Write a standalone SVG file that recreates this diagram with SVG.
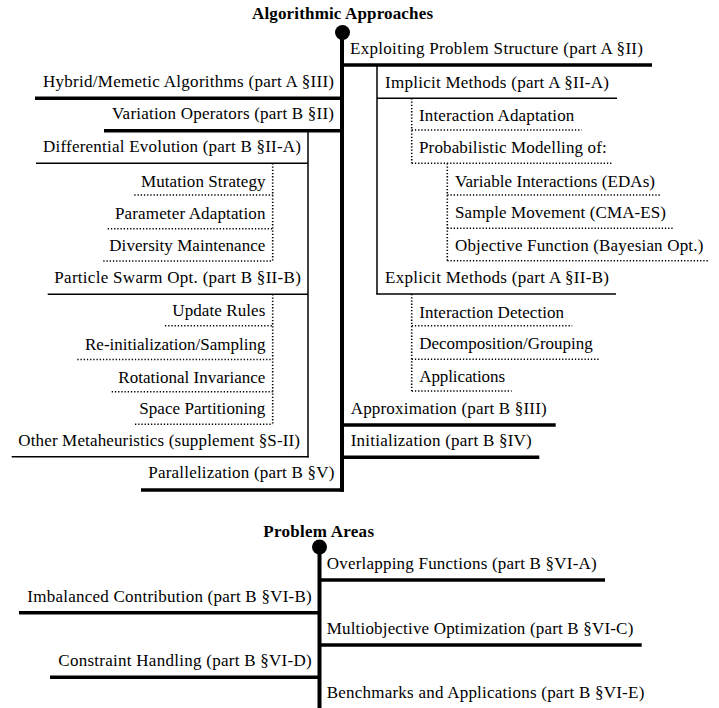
<svg xmlns="http://www.w3.org/2000/svg" width="719" height="708" viewBox="0 0 719 708">
<style>
text{font-family:'Liberation Serif','Times New Roman',serif;font-size:17px;fill:#000;}
.title{font-weight:bold;}
.thick{stroke:#000;stroke-width:3.5;fill:none;}
.spine{stroke:#000;stroke-width:4;fill:none;}
.thin{stroke:#000;stroke-width:1.5;fill:none;}
.dot{stroke:#000;stroke-width:1.6;stroke-dasharray:1.3 1.9;fill:none;}
</style>
<rect width="719" height="708" fill="#fff"/>
<g id="connectors">
  <line class="spine" x1="342" y1="32" x2="342" y2="491.7"/>
  <circle cx="342.5" cy="32.5" r="7.5" fill="#000"/>
  <line class="thick" x1="342" y1="65" x2="652" y2="65"/>
  <line class="thick" x1="35" y1="98.3" x2="342" y2="98.3"/>
  <line class="thick" x1="104" y1="130.7" x2="342" y2="130.7"/>
  <line class="thick" x1="342" y1="425" x2="555.7" y2="425"/>
  <line class="thick" x1="342" y1="457.3" x2="539.3" y2="457.3"/>
  <line class="thick" x1="141" y1="490" x2="344" y2="490"/>
  <line class="thin" x1="377" y1="65" x2="377" y2="294.3"/>
  <line class="thin" x1="377" y1="98.3" x2="617" y2="98.3"/>
  <line class="thin" x1="376.3" y1="294" x2="616" y2="294"/>
  <line class="thin" x1="308" y1="130.7" x2="308" y2="457.4"/>
  <line class="thin" x1="36" y1="163.3" x2="308" y2="163.3"/>
  <line class="thin" x1="47.7" y1="294.3" x2="308" y2="294.3"/>
  <line class="thin" x1="11.7" y1="456.7" x2="308.7" y2="456.7"/>
  <line class="dot" x1="411.7" y1="98.3" x2="411.7" y2="163.3"/>
  <line class="dot" x1="411.7" y1="130" x2="581.7" y2="130"/>
  <line class="dot" x1="411.7" y1="163.3" x2="611.7" y2="163.3"/>
  <line class="dot" x1="447.3" y1="163.3" x2="447.3" y2="260.7"/>
  <line class="dot" x1="447.3" y1="195" x2="660" y2="195"/>
  <line class="dot" x1="447.3" y1="228.3" x2="673.3" y2="228.3"/>
  <line class="dot" x1="447.3" y1="260.7" x2="708.3" y2="260.7"/>
  <line class="dot" x1="411.7" y1="294" x2="411.7" y2="391"/>
  <line class="dot" x1="411.7" y1="325.7" x2="572.3" y2="325.7"/>
  <line class="dot" x1="411.7" y1="359.3" x2="600" y2="359.3"/>
  <line class="dot" x1="411.7" y1="391" x2="511.7" y2="391"/>
  <line class="dot" x1="272.7" y1="163.3" x2="272.7" y2="261"/>
  <line class="dot" x1="134.3" y1="195" x2="272.7" y2="195"/>
  <line class="dot" x1="107.7" y1="228.8" x2="272.7" y2="228.8"/>
  <line class="dot" x1="103.3" y1="261" x2="272.7" y2="261"/>
  <line class="dot" x1="272.7" y1="294.3" x2="272.7" y2="424.3"/>
  <line class="dot" x1="165" y1="325.7" x2="272.7" y2="325.7"/>
  <line class="dot" x1="77.3" y1="359.5" x2="272.7" y2="359.5"/>
  <line class="dot" x1="111.7" y1="391.7" x2="272.7" y2="391.7"/>
  <line class="dot" x1="135" y1="424.3" x2="272.7" y2="424.3"/>
  <line class="spine" x1="319.5" y1="547" x2="319.5" y2="708"/>
  <circle cx="319.5" cy="547" r="7.5" fill="#000"/>
  <line class="thick" x1="319.5" y1="580" x2="605" y2="580"/>
  <line class="thick" x1="19" y1="612.7" x2="319.5" y2="612.7"/>
  <line class="thick" x1="319.5" y1="645" x2="641.7" y2="645"/>
  <line class="thick" x1="50" y1="677.3" x2="319.5" y2="677.3"/>
</g>
<g id="root-algorithmic"><text class="title" x="252" y="19" textLength="181" lengthAdjust="spacing">Algorithmic Approaches</text></g>
<g id="exploiting"><text x="350" y="54" textLength="293" lengthAdjust="spacing">Exploiting Problem Structure (part A §II)</text></g>
<g id="hybrid"><text x="43" y="87" textLength="291" lengthAdjust="spacing">Hybrid/Memetic Algorithms (part A §III)</text></g>
<g id="variation"><text x="112" y="119.3" textLength="222" lengthAdjust="spacing">Variation Operators (part B §II)</text></g>
<g id="implicit"><text x="385" y="88.3" textLength="224" lengthAdjust="spacing">Implicit Methods (part A §II-A)</text></g>
<g id="interaction-adaptation"><text x="419" y="121" textLength="155.3" lengthAdjust="spacing">Interaction Adaptation</text></g>
<g id="de"><text x="43" y="151.7" textLength="258" lengthAdjust="spacing">Differential Evolution (part B §II-A)</text></g>
<g id="probabilistic"><text x="419" y="153.3" textLength="187.7" lengthAdjust="spacing">Probabilistic Modelling of:</text></g>
<g id="mutation"><text x="141" y="186.7" textLength="124.5" lengthAdjust="spacing">Mutation Strategy</text></g>
<g id="variable-interactions"><text x="455" y="186.7" textLength="200" lengthAdjust="spacing">Variable Interactions (EDAs)</text></g>
<g id="parameter"><text x="115" y="218.8" textLength="150.5" lengthAdjust="spacing">Parameter Adaptation</text></g>
<g id="sample-movement"><text x="455" y="218.3" textLength="211" lengthAdjust="spacing">Sample Movement (CMA-ES)</text></g>
<g id="diversity"><text x="109.3" y="251" textLength="156" lengthAdjust="spacing">Diversity Maintenance</text></g>
<g id="objective"><text x="455" y="251" textLength="248.3" lengthAdjust="spacing">Objective Function (Bayesian Opt.)</text></g>
<g id="pso"><text x="54.3" y="283.3" textLength="246.5" lengthAdjust="spacing">Particle Swarm Opt. (part B §II-B)</text></g>
<g id="explicit"><text x="385" y="283.3" textLength="224" lengthAdjust="spacing">Explicit Methods (part A §II-B)</text></g>
<g id="update"><text x="172.3" y="316" textLength="93" lengthAdjust="spacing">Update Rules</text></g>
<g id="interaction-detection"><text x="419.3" y="318.3" textLength="144.7" lengthAdjust="spacing">Interaction Detection</text></g>
<g id="reinit"><text x="85" y="349.5" textLength="180.5" lengthAdjust="spacing">Re-initialization/Sampling</text></g>
<g id="decomposition"><text x="419.3" y="349.3" textLength="173.4" lengthAdjust="spacing">Decomposition/Grouping</text></g>
<g id="rotational"><text x="118.3" y="383.3" textLength="147" lengthAdjust="spacing">Rotational Invariance</text></g>
<g id="applications"><text x="419.3" y="381.7" textLength="85.7" lengthAdjust="spacing">Applications</text></g>
<g id="space"><text x="139.3" y="414" textLength="126" lengthAdjust="spacing">Space Partitioning</text></g>
<g id="approximation"><text x="350.7" y="413.5" textLength="196" lengthAdjust="spacing">Approximation (part B §III)</text></g>
<g id="other-meta"><text x="18.3" y="446" textLength="281.7" lengthAdjust="spacing">Other Metaheuristics (supplement §S-II)</text></g>
<g id="initialization"><text x="350.7" y="446" textLength="181" lengthAdjust="spacing">Initialization (part B §IV)</text></g>
<g id="parallelization"><text x="148.3" y="478.3" textLength="186" lengthAdjust="spacing">Parallelization (part B §V)</text></g>
<g id="root-problem"><text class="title" x="263.3" y="536.7" textLength="110.7" lengthAdjust="spacing">Problem Areas</text></g>
<g id="overlapping"><text x="326.7" y="569.3" textLength="270" lengthAdjust="spacing">Overlapping Functions (part B §VI-A)</text></g>
<g id="imbalanced"><text x="27.3" y="601.5" textLength="284.4" lengthAdjust="spacing">Imbalanced Contribution (part B §VI-B)</text></g>
<g id="multiobjective"><text x="326.7" y="633.5" textLength="306.6" lengthAdjust="spacing">Multiobjective Optimization (part B §VI-C)</text></g>
<g id="constraint"><text x="58.3" y="666" textLength="253.4" lengthAdjust="spacing">Constraint Handling (part B §VI-D)</text></g>
<g id="benchmarks"><text x="326.7" y="698.3" textLength="317.6" lengthAdjust="spacing">Benchmarks and Applications (part B §VI-E)</text></g>
</svg>
